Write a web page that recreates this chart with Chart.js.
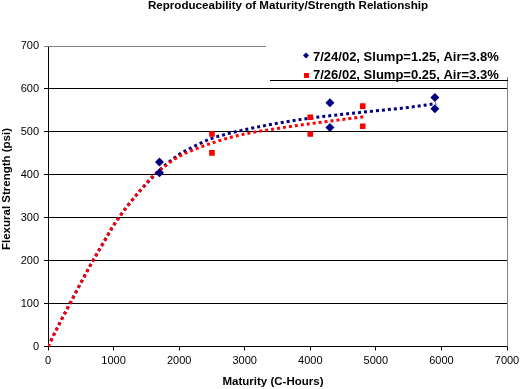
<!DOCTYPE html>
<html>
<head>
<meta charset="utf-8">
<script src="https://cdn.jsdelivr.net/npm/chart.js@4/dist/chart.umd.min.js"></script>
<style>
html,body{margin:0;padding:0;background:#fff;}
#wrap{width:529px;height:389px;position:relative;}
</style>
</head>
<body>
<div id="wrap"><canvas id="c" width="529" height="389"></canvas></div>
<script>
// ---- data ----
const titleText = "Reproduceability of Maturity/Strength Relationship";
const xTitle = "Maturity (C-Hours)";
const yTitle = "Flexural Strength (psi)";
const seriesLabels = ["7/24/02, Slump=1.25, Air=3.8%", "7/26/02, Slump=0.25, Air=3.3%"];

const blueX = [1700, 1700, 4300, 4300, 5900, 5900];
const blueY = [430, 405, 568, 510, 580, 554];
const redX = [2500, 2500, 4000, 4000, 4800, 4800];
const redY = [495, 451, 534, 495, 560, 513];

const trendBlueX = [0, 170, 335, 500, 686, 850, 1000, 1200, 1400, 1600, 1800, 2000, 2250, 2500, 2750, 3000, 3500, 4000, 4500, 5000, 5500, 5920];
const trendBlueY = [0, 52, 100, 148, 200, 243, 282, 325, 362, 395, 424, 447, 468, 485, 496, 505, 520, 532, 541, 549, 557, 566];
const trendRedX = [0, 170, 335, 500, 686, 850, 1000, 1200, 1400, 1600, 1800, 2000, 2250, 2500, 2750, 3000, 3500, 4000, 4500, 4850];
const trendRedY = [0, 52, 100, 148, 200, 243, 282, 325, 362, 397, 422, 443, 460, 474, 486, 495, 508, 519, 529, 536];

const xTicks = [0, 1000, 2000, 3000, 4000, 5000, 6000, 7000];
const yTicks = [0, 100, 200, 300, 400, 500, 600, 700];

const BLUE = "#000080";
const RED = "#FF0000";
const FONT = "Arial, 'Liberation Sans', sans-serif";

const pts = (xs, ys) => xs.map((x, i) => ({x: x, y: ys[i]}));

const decor = {
  id: 'decor',
  afterDraw(chart) {
    const ctx = chart.ctx;
    const xs = chart.scales.x, ys = chart.scales.y;
    const L = xs.getPixelForValue(0), R = xs.getPixelForValue(7000);
    const T = ys.getPixelForValue(700), B = ys.getPixelForValue(0);
    ctx.save();
    // grey top line (partial) and grey right border
    ctx.strokeStyle = "#808080";
    ctx.lineWidth = 1;
    ctx.beginPath();
    ctx.moveTo(L, Math.round(T) + 0.5);
    ctx.lineTo(266, Math.round(T) + 0.5);
    ctx.stroke();
    ctx.beginPath();
    ctx.moveTo(Math.round(R) + 0.5, 77);
    ctx.lineTo(Math.round(R) + 0.5, B);
    ctx.stroke();
    // legend bottom line
    ctx.strokeStyle = "#000";
    ctx.beginPath();
    ctx.moveTo(270, 80.5);
    ctx.lineTo(508, 80.5);
    ctx.stroke();
    // legend entries
    ctx.font = "bold 13px " + FONT;
    ctx.textBaseline = "alphabetic";
    ctx.textAlign = "left";
    ctx.fillStyle = "#000";
    ctx.fillText(seriesLabels[0], 313, 60.5);
    ctx.fillText(seriesLabels[1], 313, 79);
    // blue diamond
    ctx.fillStyle = BLUE;
    ctx.beginPath();
    ctx.moveTo(306, 52.5); ctx.lineTo(309, 55.5); ctx.lineTo(306, 58.5); ctx.lineTo(303, 55.5);
    ctx.closePath(); ctx.fill();
    // red square
    ctx.fillStyle = RED;
    ctx.fillRect(304, 73, 5, 5);
    // titles
    ctx.fillStyle = "#000";
    ctx.textAlign = "center";
    ctx.textBaseline = "middle";
    ctx.font = "bold 11.6px " + FONT;
    ctx.fillText(titleText, 288, 6);
    ctx.font = "bold 11.5px " + FONT;
    ctx.fillText(xTitle, 273, 382);
    ctx.translate(7, 189);
    ctx.rotate(-Math.PI / 2);
    ctx.fillText(yTitle, 0, 0);
    ctx.restore();
  }
};

new Chart(document.getElementById('c'), {
  type: 'scatter',
  data: {
    datasets: [
      {label: seriesLabels[0], data: pts(blueX, blueY), pointStyle: 'rectRot', pointRadius: 4.5, pointHoverRadius: 4.5,
       backgroundColor: BLUE, borderColor: BLUE, borderWidth: 0, showLine: false, order: 0},
      {label: seriesLabels[1], data: pts(redX, redY), pointStyle: 'rect', pointRadius: 4, pointHoverRadius: 4,
       backgroundColor: RED, borderColor: RED, borderWidth: 0, showLine: false, order: 0},
      {label: 'trend1', data: pts(trendRedX, trendRedY), showLine: true, borderColor: RED, borderWidth: 3,
       borderDash: [3, 3], pointRadius: 0, cubicInterpolationMode: 'monotone', fill: false, order: 1},
      {label: 'trend2', data: pts(trendBlueX, trendBlueY), showLine: true, borderColor: BLUE, borderWidth: 3,
       borderDash: [3, 3], pointRadius: 0, cubicInterpolationMode: 'monotone', fill: false, order: 2}
    ]
  },
  options: {
    responsive: false,
    animation: false,
    devicePixelRatio: 1,
    layout: {padding: {top: 46, right: 22, left: 0, bottom: 0}},
    plugins: {legend: {display: false}, tooltip: {enabled: false}, title: {display: false}},
    scales: {
      x: {
        type: 'linear', min: 0, max: 7000,
        afterBuildTicks: s => { s.ticks = xTicks.map(v => ({value: v})); },
        afterFit: s => { s.height = 42.5; },
        ticks: {color: '#000', font: {family: FONT, size: 11}, padding: 4, maxRotation: 0,
                callback: v => String(v)},
        grid: {drawOnChartArea: false, drawTicks: true, tickLength: 4, color: '#000', tickColor: '#000'},
        border: {display: true, color: '#000', width: 1}
      },
      y: {
        type: 'linear', min: 0, max: 700,
        afterBuildTicks: s => { s.ticks = yTicks.map(v => ({value: v})); },
        afterFit: s => { s.width = 48; },
        ticks: {color: '#000', font: {family: FONT, size: 11}, padding: 5, callback: v => String(v)},
        grid: {drawOnChartArea: true, drawTicks: true, tickLength: 4,
               color: c => (c.tick && (c.tick.value === 700 || c.tick.value === 0)) ? 'rgba(0,0,0,0)' : '#000',
               tickColor: c => (c.tick && c.tick.value === 700) ? '#808080' : '#000'},
        border: {display: true, color: '#000', width: 1}
      }
    }
  },
  plugins: [decor]
});
</script>
</body>
</html>
